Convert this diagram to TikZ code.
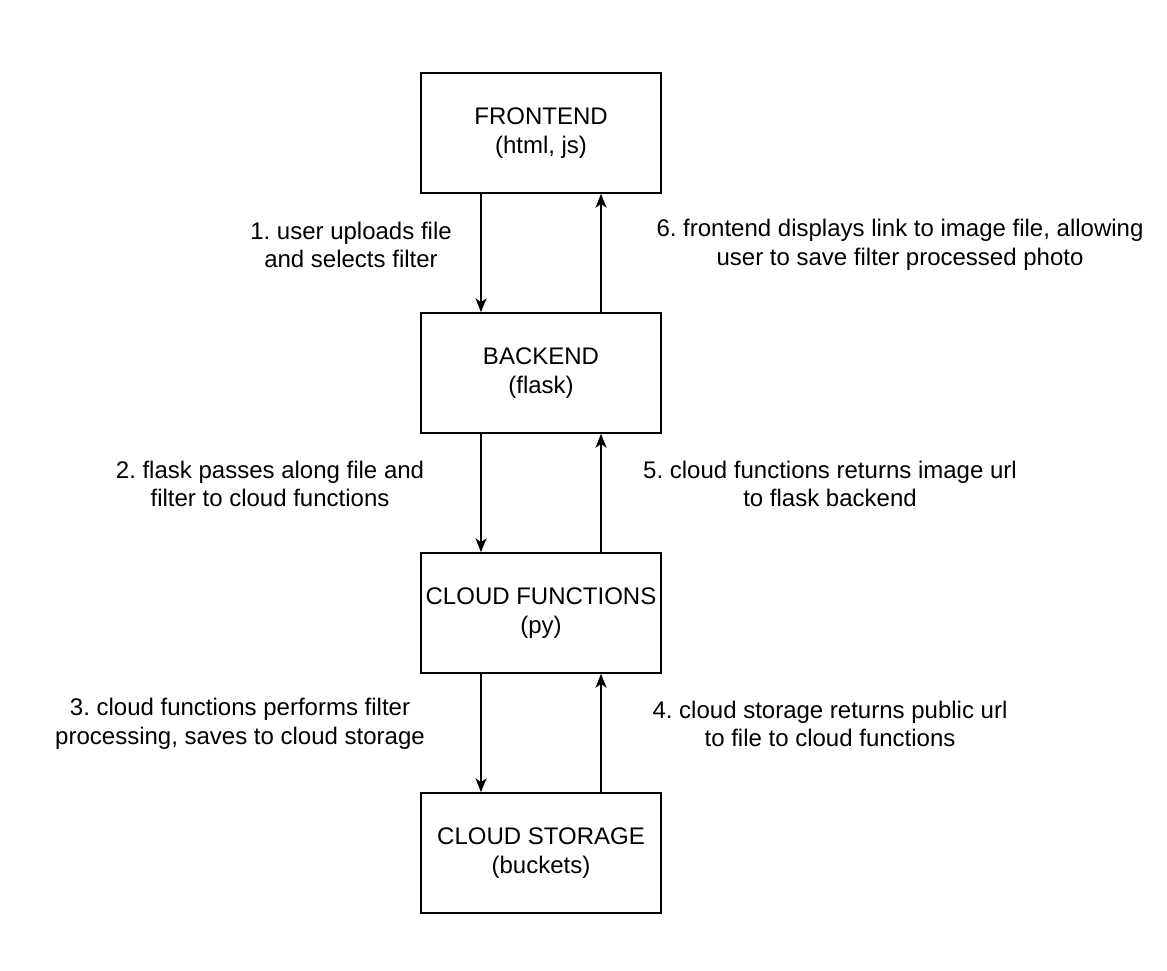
\documentclass[tikz,border=0pt]{standalone}
\usepackage{fontspec}
\setmainfont{Liberation Sans}
\usetikzlibrary{positioning}
\usetikzlibrary{arrows.meta}
\usepackage{xcolor}
\frenchspacing

\begin{document}
\begin{tikzpicture}[
        x=1pt, y=-1pt,
        box/.style={rectangle, draw=black, fill=white, line width=1.5pt, minimum width=240pt, minimum height=120pt, align=center, font=\fontsize{24}{28.8}\selectfont},
        lbl/.style={align=center, font=\fontsize{24}{28.8}\selectfont},
        node distance=118.5pt,
        ->,>={Stealth[length=14pt,width=11pt,inset=4pt]}, line width=1.5pt
    ]
        \useasboundingbox (0,0) rectangle (1167,971);
        \node[box] (front) at (541,133) {FRONTEND\\(html, js)};
        \node[box] (back) [below=of front] {BACKEND\\(flask)};
        \node[box] (func) [below=of back] {CLOUD FUNCTIONS\\(py)};
        \node[box] (store) [below=of func] {CLOUD STORAGE\\(buckets)};

        \draw ([xshift=-60pt]front.south) -- ([xshift=-60pt]back.north);
        \draw ([xshift=60pt]back.north) -- ([xshift=60pt]front.south);
        \draw ([xshift=-60pt]back.south) -- ([xshift=-60pt]func.north);
        \draw ([xshift=60pt]func.north) -- ([xshift=60pt]back.south);
        \draw ([xshift=-60pt]func.south) -- ([xshift=-60pt]store.north);
        \draw ([xshift=60pt]store.north) -- ([xshift=60pt]func.south);

        \node[lbl] (up1) at (351,245) {1. user uploads file\\and selects filter};
        \node[lbl] (up6) at (900,245) {6. frontend displays link to image file, allowing\\user to save filter processed photo};
        \node[lbl] (up2) at (270,484) {2. flask passes along file and\\filter to cloud functions};
        \node[lbl] (up5) at (830,484) {5. cloud functions returns image url\\to flask backend};
        \node[lbl] (up3) at (240,724) {3. cloud functions performs filter\\processing, saves to cloud storage};
        \node[lbl] (up4) at (830,724) {4. cloud storage returns public url\\to file to cloud functions};
    \end{tikzpicture}
\end{document}
